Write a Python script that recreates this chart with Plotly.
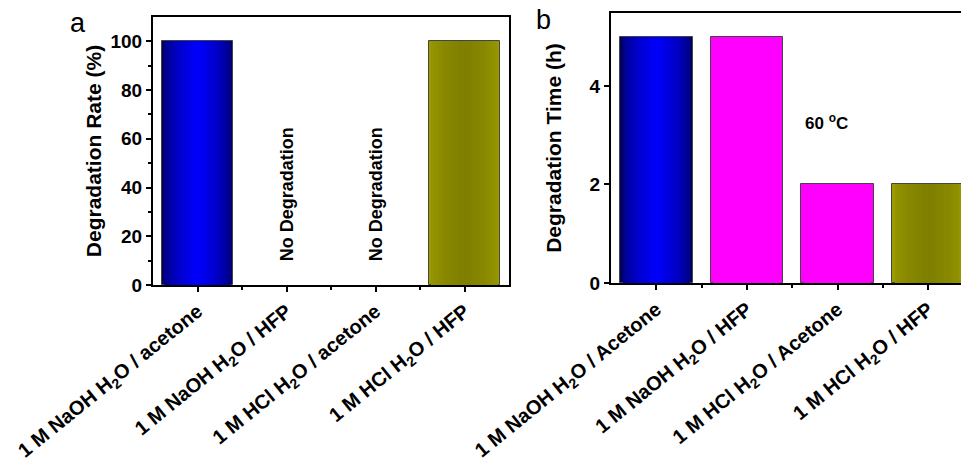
import plotly.graph_objects as go

# ---- data ----
labels_a = ["1 M NaOH H<sub>2</sub>O / acetone", "1 M NaOH H<sub>2</sub>O / HFP",
            "1 M HCl H<sub>2</sub>O / acetone", "1 M HCl H<sub>2</sub>O / HFP"]
rate_a = [100, 0, 0, 100]
labels_b = ["1 M NaOH H<sub>2</sub>O / Acetone", "1 M NaOH H<sub>2</sub>O / HFP",
            "1 M HCl H<sub>2</sub>O / Acetone", "1 M HCl H<sub>2</sub>O / HFP"]
time_b = [5, 5, 2, 2]
notes_a = ["", "No Degradation", "No Degradation", ""]
note_b = "60 <sup>o</sup>C"

# ---- styles ----
BLUE = ((0, 0, 95), (0, 0, 255))
MAG = ((255, 0, 255), (255, 0, 255))
OLIVE = ((156, 156, 0), (126, 126, 0))
NONE = None
styles_a = [BLUE, NONE, NONE, OLIVE]
styles_b = [BLUE, MAG, MAG, OLIVE]
FONT = "Liberation Sans, Arial, sans-serif"
BAR_W = 0.8
NLAYERS = 14

fig = go.Figure()


def add_bars(xs, ys, styles, xaxis, yaxis):
    for k in range(NLAYERS):
        t = k / NLAYERS
        w = BAR_W * (1 - t)
        s = t ** 0.5
        for x, y, st in zip(xs, ys, styles):
            if st is None:
                continue
            e, c = st
            col = tuple(int(round(e[i] + (c[i] - e[i]) * s)) for i in range(3))
            fig.add_trace(go.Bar(
                x=[x], y=[y], width=w, xaxis=xaxis, yaxis=yaxis,
                marker=dict(color="rgb(%d,%d,%d)" % col,
                            line=dict(color="#444" if k == 0 else "rgba(0,0,0,0)",
                                      width=1 if k == 0 else 0)),
                showlegend=False, hoverinfo="skip"))


xs = list(range(4))
add_bars(xs, rate_a, styles_a, "x", "y")
add_bars(xs, time_b, styles_b, "x2", "y2")

W, H = 961, 471
line_common = dict(showline=True, linecolor="black", linewidth=2, ticks="outside",
                   tickcolor="black", tickwidth=2, ticklen=5, showgrid=False,
                   zeroline=False, automargin=False)
ytickfont = dict(family=FONT, size=19, color="black", weight="bold")
xtickfont = dict(family=FONT, size=20, color="black", weight="bold")
titlefont = dict(family=FONT, size=21, color="black", weight="bold")
xminor = dict(tickmode="array", tickvals=[0.5, 1.5, 2.5], ticklen=3,
              tickwidth=1.5, tickcolor="black", ticks="outside")

fig.update_layout(
    width=W, height=H, margin=dict(l=0, r=0, t=0, b=0),
    paper_bgcolor="white", plot_bgcolor="white", barmode="overlay", bargap=0,
    xaxis=dict(domain=[153 / W, 509 / W], range=[-0.5, 3.5], anchor="y", mirror=True,
               tickmode="array", tickvals=xs, ticktext=labels_a, tickangle=-39,
               minor=xminor, tickfont=xtickfont, **line_common),
    yaxis=dict(domain=[1 - 285 / H, 1 - 17 / H], range=[0, 110], anchor="x", mirror=True,
               tickmode="array", tickvals=[0, 20, 40, 60, 80, 100],
               minor=dict(tickmode="array", tickvals=[10, 30, 50, 70, 90], ticklen=3,
                          tickwidth=1.5, tickcolor="black", ticks="outside"),
               title=dict(text="Degradation Rate (%)", standoff=3, font=titlefont),
               tickfont=ytickfont, **line_common),
    xaxis2=dict(domain=[611 / W, 1.0], range=[-0.5, 3.36], anchor="y2", mirror=True,
                tickmode="array", tickvals=xs, ticktext=labels_b, tickangle=-39,
                minor=xminor, tickfont=xtickfont, **line_common),
    yaxis2=dict(domain=[1 - 283 / H, 1 - 13 / H], range=[0, 5.48], anchor="x2", mirror=False,
                tickmode="array", tickvals=[0, 2, 4],
                title=dict(text="Degradation Time (h)", standoff=22, font=titlefont),
                tickfont=ytickfont, **line_common),
)

for i, txt in enumerate(notes_a):
    if txt:
        fig.add_annotation(x=xs[i], y=37, xref="x", yref="y", text=txt, textangle=-90,
                           showarrow=False, xanchor="center", yanchor="middle",
                           font=dict(family=FONT, size=18, color="black", weight="bold"))

fig.add_annotation(x=1.88, y=3.27, xref="x2", yref="y2", text=note_b, showarrow=False,
                   xanchor="center", yanchor="middle",
                   font=dict(family=FONT, size=17, color="black", weight="bold"))

fig.add_annotation(x=78 / W, y=1 - 23 / H, xref="paper", yref="paper", text="a",
                   showarrow=False, xanchor="center", yanchor="middle",
                   font=dict(family=FONT, size=27, color="black"))
fig.add_annotation(x=543 / W, y=1 - 20 / H, xref="paper", yref="paper", text="b",
                   showarrow=False, xanchor="center", yanchor="middle",
                   font=dict(family=FONT, size=27, color="black"))

fig.write_html("out.html", config={"displayModeBar": False},
               post_script="document.body.style.margin='0';")
